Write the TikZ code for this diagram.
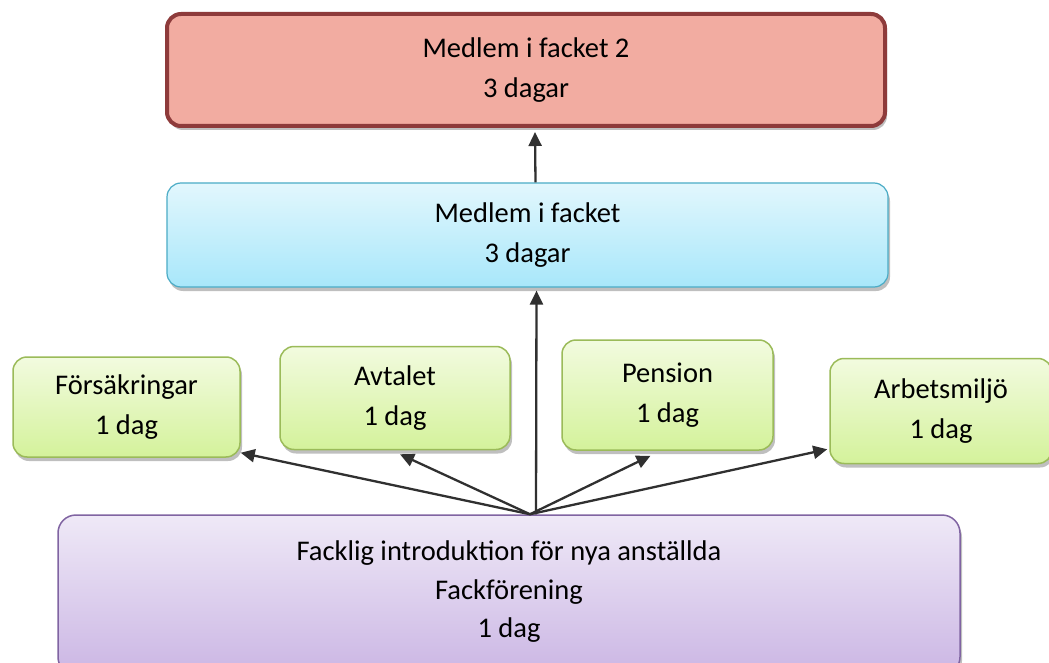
\documentclass[tikz,border=0pt]{standalone}
\usepackage{fontspec}
\setmainfont{Carlito}
\usetikzlibrary{shadows,arrows.meta,calc}
\definecolor{redfill}{HTML}{F2ACA1}
\definecolor{redline}{HTML}{8E3B3B}
\definecolor{bluetop}{HTML}{E2F7FD}
\definecolor{bluebot}{HTML}{A8E7FA}
\definecolor{blueline}{HTML}{4BACC6}
\definecolor{greentop}{HTML}{F2FBDF}
\definecolor{greenbot}{HTML}{D4F29B}
\definecolor{greenline}{HTML}{9BBB59}
\definecolor{purptop}{HTML}{EFE9F7}
\definecolor{purpbot}{HTML}{CBB6E4}
\definecolor{purpline}{HTML}{8064A2}
\definecolor{arrowc}{HTML}{303030}
\tikzset{
  box/.style={rounded corners=14pt, align=center, font=\fontsize{28.5}{40}\selectfont, inner sep=0pt,
    drop shadow={shadow xshift=2pt, shadow yshift=-4pt, opacity=0.25, fill=black}},
  redbox/.style={box, draw=redline, line width=4pt, fill=redfill},
  bluebox/.style={box, draw=blueline, line width=1.2pt, top color=bluetop, bottom color=bluebot},
  greenbox/.style={box, draw=greenline, line width=1.5pt, top color=greentop, bottom color=greenbot},
  purpbox/.style={box, rounded corners=18pt, draw=purpline, line width=1.5pt, top color=purptop, bottom color=purpbot},
  conn/.style={draw=arrowc, line width=2.3pt, -{Triangle[length=14pt,width=13pt]}}
}
\begin{document}
\begin{tikzpicture}[x=1pt,y=-1pt]
\clip (0,0) rectangle (1049,663);
\fill[white] (0,0) rectangle (1049,663);
\node[redbox, minimum width=718pt, minimum height=112pt] (red) at (526,70) {Medlem i facket 2\\3 dagar};
\node[bluebox, minimum width=721pt, minimum height=104pt] (blue) at (527.5,235) {Medlem i facket\\3 dagar};
\node[greenbox, minimum width=227pt, minimum height=100pt] (fors) at (126.5,407) {Försäkringar\\1 dag};
\node[greenbox, minimum width=230pt, minimum height=103pt] (avt) at (395,398) {Avtalet\\1 dag};
\node[greenbox, minimum width=211pt, minimum height=110pt] (pen) at (667.5,395) {Pension\\1 dag};
\node[greenbox, minimum width=222pt, minimum height=105pt] (arb) at (941,411) {Arbetsmiljö\\1 dag};
\node[purpbox, minimum width=902pt, minimum height=160pt] (purp) at (509,595) {};
\node[font=\fontsize{28.5}{38.5}\selectfont, align=center] (purptext) at (509,592) {Facklig introduktion för nya anställda\\Fackförening\\1 dag};
\coordinate (hub) at ($(purp.north)+(21,0)$);
\draw[conn] (hub) -- ($(fors.south east)+(0,-5)$);
\draw[conn] (hub) -- ($(avt.south)+(5,4)$);
\draw[conn] (hub) -- ($(pen.south)+(-17,5)$);
\draw[conn] (hub) -- ($(arb.south west)+(-2,-15)$);
\draw[conn] ($(purp.north)+(27,0)$) -- ($(blue.south)+(9,3)$);
\draw[conn] ($(blue.north)+(8,0)$) -- ($(red.south)+(9,4)$);
\end{tikzpicture}
\end{document}
